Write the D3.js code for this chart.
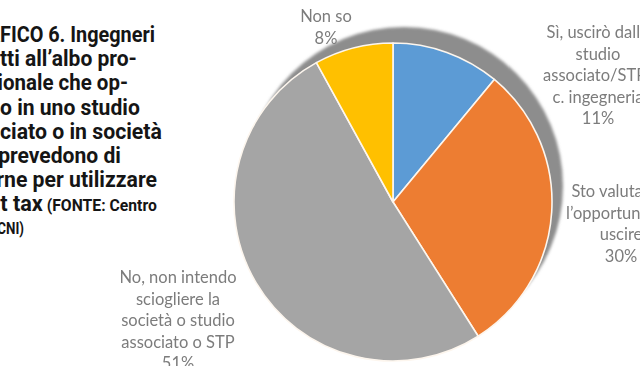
<!DOCTYPE html>
<html>
<head>
<meta charset="utf-8">
<script src="https://cdn.jsdelivr.net/npm/d3@7"></script>
<style>
  html, body { margin: 0; padding: 0; background: #fff; overflow: hidden; }
  svg { display: block; }
</style>
</head>
<body>
<svg id="chart" width="640" height="366"></svg>
<script>
// ---- data ----
const categories = [
  "Sì, uscirò dallo studio associato/STP/ c. ingegneria",
  "Sto valutando l'opportunità di uscire",
  "No, non intendo sciogliere la società o studio associato o STP",
  "Non so"
];
const values = [11, 30, 51, 8];
const labelLines = [
  ["Sì, uscirò dallo", "studio", "associato/STP/", "c. ingegneria"],
  ["Sto valutando", "l’opportunità di", "uscire"],
  ["No, non intendo", "sciogliere la", "società o studio", "associato o STP"],
  ["Non so"]
];
const titleLines = [
  "GRAFICO 6. Ingegneri",
  "iscritti all’albo pro-",
  "fessionale che op-",
  "erano in uno studio",
  "associato o in società",
  "e prevedono di",
  "uscirne per utilizzare",
  "la flat tax"
];
const sourceLines = ["(FONTE: Centro", "Studi CNI)"];

// ---- styling ----
const palette = ["#5b9bd5", "#ed7d31", "#a5a5a5", "#ffc000"];
const svg = d3.select("#chart");
const defs = svg.append("defs");
defs.append("filter").attr("id", "soft").attr("x", "-10%").attr("y", "-10%")
  .attr("width", "120%").attr("height", "120%")
  .append("feGaussianBlur").attr("stdDeviation", 0.6);
defs.append("filter").attr("id", "shadowBlur").attr("x", "-10%").attr("y", "-10%")
  .attr("width", "120%").attr("height", "120%")
  .append("feGaussianBlur").attr("stdDeviation", 1.4);

// ---- pie ----
const cx = 393, cy = 202, radius = 159;
const pie = d3.pie().sort(null).value(d => d)(values);
const arc = d3.arc().innerRadius(0).outerRadius(radius);

// darker disc behind the pie, offset up and to the right
svg.append("circle")
  .attr("cx", cx + 11).attr("cy", cy - 16).attr("r", radius)
  .attr("fill", "#8d8d8d")
  .attr("filter", "url(#shadowBlur)");

const pieG = svg.append("g")
  .attr("transform", `translate(${cx},${cy})`)
  .attr("filter", "url(#soft)");
pieG.selectAll("path.slice")
  .data(pie)
  .join("path")
  .attr("class", "slice")
  .attr("d", arc)
  .attr("fill", (d, i) => palette[i])
  .attr("stroke", "#fdf6ee")
  .attr("stroke-width", 1.6)
  .attr("stroke-linejoin", "round");

// ---- slice labels ----
const labelAnchors = [
  { x: 598, y: 38 },
  { x: 621, y: 197 },
  { x: 178, y: 283 },
  { x: 326, y: 22 }
];
const lineH = 21.6;
const labelG = svg.append("g")
  .attr("font-family", "Lato, 'Noto Sans', sans-serif")
  .attr("font-size", 16.5)
  .attr("fill", "#7c7c7c")
  .attr("text-anchor", "middle")
  .attr("filter", "url(#soft)");
categories.forEach((c, i) => {
  const lines = labelLines[i].concat([`${values[i]}%`]);
  const t = labelG.append("text")
    .attr("x", labelAnchors[i].x)
    .attr("y", labelAnchors[i].y);
  lines.forEach((ln, j) => {
    t.append("tspan")
      .attr("x", labelAnchors[i].x)
      .attr("dy", j === 0 ? 0 : lineH)
      .text(ln);
  });
});

// ---- title block (the column runs off the left edge) ----
const titleSize = 22, titleLead = 24.2, titleTop = 42, noteSize = 16;
const titleG = svg.append("g")
  .attr("font-family", "Roboto, 'Noto Sans', sans-serif")
  .attr("font-weight", 700)
  .attr("fill", "#151515");

// each line: its runs, and the span [left, right] that its last
// `tail` characters occupy; the face is condensed line by line to fit
const titleRows = [
  { runs: [[titleLines[0], titleSize]], tail: 17, left: 0, right: 155 },
  { runs: [[titleLines[1], titleSize]], tail: 17, left: 0, right: 137 },
  { runs: [[titleLines[2], titleSize]], tail: 13, left: 3, right: 128 },
  { runs: [[titleLines[3], titleSize]], tail: 15, left: 0, right: 140 },
  { runs: [[titleLines[4], titleSize]], tail: 18, left: 0, right: 162 },
  { runs: [[titleLines[5], titleSize]], tail: 11, left: 10, right: 121 },
  { runs: [[titleLines[6], titleSize]], tail: 17, left: 4, right: 157 },
  { runs: [[titleLines[7], titleSize], [" " + sourceLines[0], noteSize]], tail: 18, left: 13, right: 157 },
  { runs: [[sourceLines[1], noteSize]], tail: 3, left: 6, right: 24 }
];

titleRows.forEach((row, i) => {
  const g = titleG.append("g");
  const t = g.append("text")
    .attr("x", 0)
    .attr("y", titleTop + i * titleLead - (i === 8 ? 2 : 0));
  row.runs.forEach(([s, size]) => t.append("tspan").attr("font-size", size).text(s));
  const n = row.runs.reduce((a, [s]) => a + s.length, 0);
  const total = t.node().getComputedTextLength();
  const tailW = t.node().getSubStringLength(n - row.tail, row.tail);
  const s = (row.right - row.left) / tailW;
  g.attr("transform", `translate(${row.left - s * (total - tailW)},0) scale(${s},1)`);
});
</script>
</body>
</html>
